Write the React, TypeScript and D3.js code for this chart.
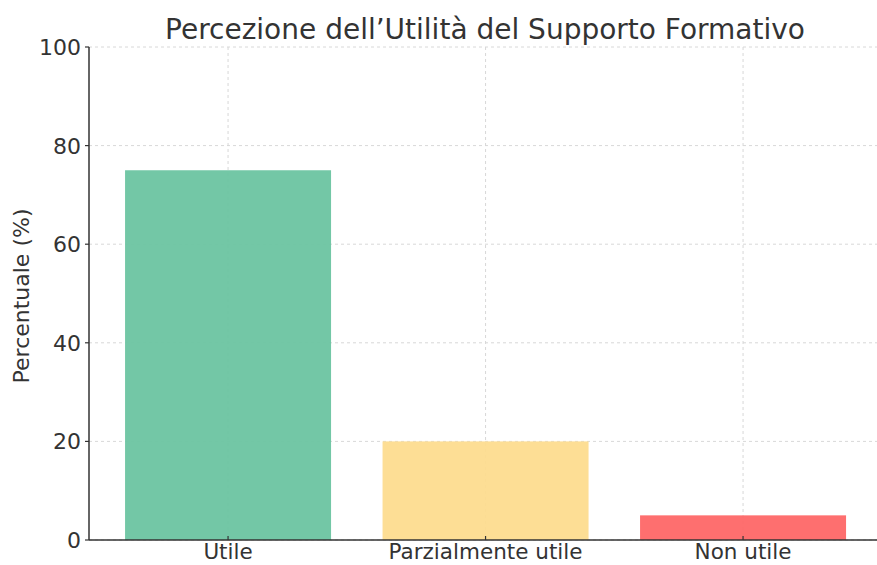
import React from "react";
import * as d3 from "d3";

const categories = ["Utile", "Parzialmente utile", "Non utile"];
const values = [75, 20, 5];
const colors = ["#6cc4a1", "#fddc8f", "#fe6767"];
const yTicks = [0, 20, 40, 60, 80, 100];

export default function App() {
  const W = 877, H = 565;
  const left = 89, bottom = 540, top = 47;
  const pxPerUnit = 257.5;
  const x = d3.scaleLinear().domain([-0.54, 2.54]).range([left, left + 3.08 * pxPerUnit]);
  const y = d3.scaleLinear().domain([0, 100]).range([bottom, top]);
  const barW = 0.8;
  const font = "'DejaVu Sans', sans-serif";
  return (
    <svg width={W} height={H} style={{ position: "absolute", left: 0, top: 0, background: "#fff" }}>
      {yTicks.map((t) => (
        <line key={"gy" + t} x1={left} x2={W} y1={y(t)} y2={y(t)} stroke="#d8d8d8" strokeWidth={1} strokeDasharray="3,3" />
      ))}
      {categories.map((c, i) => (
        <line key={"gx" + c} x1={x(i)} x2={x(i)} y1={top} y2={bottom} stroke="#d8d8d8" strokeWidth={1} strokeDasharray="3,3" />
      ))}
      {categories.map((c, i) => (
        <rect key={c} x={x(i - barW / 2)} y={y(values[i])} width={x(i + barW / 2) - x(i - barW / 2)} height={bottom - y(values[i])} fill={colors[i]} fillOpacity={0.95} />
      ))}
      <line x1={left} x2={left} y1={top} y2={bottom} stroke="#333" strokeWidth={1.5} />
      <line x1={left} x2={W} y1={bottom} y2={bottom} stroke="#333" strokeWidth={1.5} />
      {yTicks.map((t) => (
        <g key={"ty" + t}>
          <line x1={left - 4} x2={left} y1={y(t)} y2={y(t)} stroke="#333" strokeWidth={1.2} />
          <text x={left - 8} y={y(t)} dy="0.36em" textAnchor="end" fontSize={22} fontFamily={font} fill="#333">{t}</text>
        </g>
      ))}
      {categories.map((c, i) => (
        <g key={"tx" + c}>
          <line x1={x(i)} x2={x(i)} y1={bottom} y2={bottom - 4} stroke="#333" strokeWidth={1.2} />
          <text x={x(i)} y={bottom + 19} textAnchor="middle" fontSize={21.5} fontFamily={font} fill="#333">{c}</text>
        </g>
      ))}
      <text transform={`translate(29, 296) rotate(-90)`} textAnchor="middle" fontSize={22} fontFamily={font} fill="#333">Percentuale (%)</text>
      <text x={485} y={39} textAnchor="middle" fontSize={28} fontFamily={font} fill="#333">Percezione dell’Utilità del Supporto Formativo</text>
    </svg>
  );
}
